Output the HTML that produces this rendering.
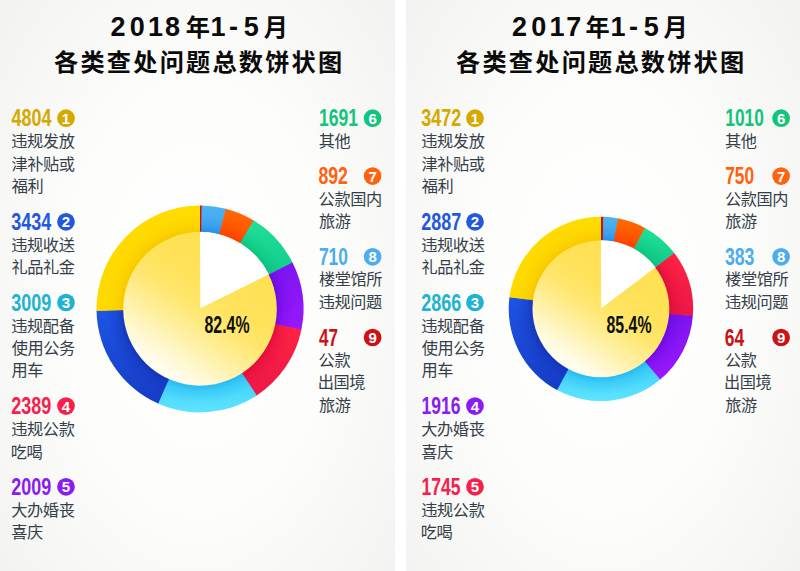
<!DOCTYPE html>
<html><head><meta charset="utf-8"><title>2018/2017 1-5月 各类查处问题总数饼状图</title>
<style>
html,body{margin:0;padding:0;background:#fff;}
body{width:800px;height:571px;overflow:hidden;position:relative;font-family:"Liberation Sans",sans-serif;}
.p{position:absolute;top:0;height:571px;}
#p1{left:0;width:395px;background:radial-gradient(ellipse 72% 80% at 50% 52%,#ffffff 0%,#fdfdfc 45%,#f1f1ef 100%);}
#p2{left:406px;width:394px;background:radial-gradient(ellipse 72% 80% at 50% 52%,#ffffff 0%,#fdfdfc 45%,#f1f1ef 100%);}
svg{position:absolute;left:0;top:0;}
svg text{font-family:"Liberation Sans","Noto Sans CJK SC",sans-serif;}
.t{position:absolute;margin:0;white-space:nowrap;color:transparent;line-height:1;font-weight:normal;}
</style></head><body>
<div class="p" id="p1"></div><div class="p" id="p2"></div>
<svg width="800" height="571" viewBox="0 0 800 571">
<defs><linearGradient id="ag1" x1="0" y1="0" x2="0" y2="1"><stop offset="0" stop-color="#ffdb00"/><stop offset="1" stop-color="#ffd900"/></linearGradient><linearGradient id="ag2" x1="0" y1="0" x2="0" y2="1"><stop offset="0" stop-color="#1d55e4"/><stop offset="1" stop-color="#173cc6"/></linearGradient><linearGradient id="ag3" x1="0" y1="0" x2="0" y2="1"><stop offset="0" stop-color="#3ccdf8"/><stop offset="1" stop-color="#5ee4ff"/></linearGradient><linearGradient id="ag4" x1="0" y1="0" x2="0" y2="1"><stop offset="0" stop-color="#ff2244"/><stop offset="1" stop-color="#ec1848"/></linearGradient><linearGradient id="ag5" x1="0" y1="0" x2="0" y2="1"><stop offset="0" stop-color="#7c14f0"/><stop offset="1" stop-color="#9a18ff"/></linearGradient><linearGradient id="ag6" x1="0" y1="0" x2="0" y2="1"><stop offset="0" stop-color="#1fe096"/><stop offset="1" stop-color="#12cc8c"/></linearGradient><linearGradient id="ag7" x1="0" y1="0" x2="0" y2="1"><stop offset="0" stop-color="#ff6a00"/><stop offset="1" stop-color="#ff4e00"/></linearGradient><linearGradient id="ag8" x1="0" y1="0" x2="0" y2="1"><stop offset="0" stop-color="#4cb2f2"/><stop offset="1" stop-color="#44a6ee"/></linearGradient><linearGradient id="ag9" x1="0" y1="0" x2="0" y2="1"><stop offset="0" stop-color="#d01018"/><stop offset="1" stop-color="#d01018"/></linearGradient><radialGradient id="as1" gradientUnits="userSpaceOnUse" cx="200.00" cy="308.90" r="103.50"><stop offset="0.742" stop-color="#f5c200" stop-opacity="0.75"/><stop offset="0.800" stop-color="#f5c200" stop-opacity="0.32"/><stop offset="0.906" stop-color="#f5c200" stop-opacity="0"/></radialGradient><radialGradient id="as2" gradientUnits="userSpaceOnUse" cx="200.00" cy="308.90" r="103.50"><stop offset="0.742" stop-color="#1230b0" stop-opacity="0.75"/><stop offset="0.800" stop-color="#1230b0" stop-opacity="0.32"/><stop offset="0.906" stop-color="#1230b0" stop-opacity="0"/></radialGradient><radialGradient id="as3" gradientUnits="userSpaceOnUse" cx="200.00" cy="308.90" r="103.50"><stop offset="0.742" stop-color="#1cb4f0" stop-opacity="0.75"/><stop offset="0.800" stop-color="#1cb4f0" stop-opacity="0.32"/><stop offset="0.906" stop-color="#1cb4f0" stop-opacity="0"/></radialGradient><radialGradient id="as4" gradientUnits="userSpaceOnUse" cx="200.00" cy="308.90" r="103.50"><stop offset="0.742" stop-color="#dc0838" stop-opacity="0.75"/><stop offset="0.800" stop-color="#dc0838" stop-opacity="0.32"/><stop offset="0.906" stop-color="#dc0838" stop-opacity="0"/></radialGradient><radialGradient id="as5" gradientUnits="userSpaceOnUse" cx="200.00" cy="308.90" r="103.50"><stop offset="0.742" stop-color="#6408dc" stop-opacity="0.75"/><stop offset="0.800" stop-color="#6408dc" stop-opacity="0.32"/><stop offset="0.906" stop-color="#6408dc" stop-opacity="0"/></radialGradient><radialGradient id="as6" gradientUnits="userSpaceOnUse" cx="200.00" cy="308.90" r="103.50"><stop offset="0.742" stop-color="#08bc7c" stop-opacity="0.75"/><stop offset="0.800" stop-color="#08bc7c" stop-opacity="0.32"/><stop offset="0.906" stop-color="#08bc7c" stop-opacity="0"/></radialGradient><radialGradient id="as7" gradientUnits="userSpaceOnUse" cx="200.00" cy="308.90" r="103.50"><stop offset="0.742" stop-color="#ff3800" stop-opacity="0.75"/><stop offset="0.800" stop-color="#ff3800" stop-opacity="0.32"/><stop offset="0.906" stop-color="#ff3800" stop-opacity="0"/></radialGradient><radialGradient id="as8" gradientUnits="userSpaceOnUse" cx="200.00" cy="308.90" r="103.50"><stop offset="0.742" stop-color="#1888ec" stop-opacity="0.75"/><stop offset="0.800" stop-color="#1888ec" stop-opacity="0.32"/><stop offset="0.906" stop-color="#1888ec" stop-opacity="0"/></radialGradient><radialGradient id="as9" gradientUnits="userSpaceOnUse" cx="200.00" cy="308.90" r="103.50"><stop offset="0.742" stop-color="#b80810" stop-opacity="0.75"/><stop offset="0.800" stop-color="#b80810" stop-opacity="0.32"/><stop offset="0.906" stop-color="#b80810" stop-opacity="0"/></radialGradient><radialGradient id="ash" gradientUnits="userSpaceOnUse" cx="200.00" cy="308.90" r="103.50"><stop offset="0.742" stop-color="#7a2c00" stop-opacity="0.13"/><stop offset="0.897" stop-color="#7a2c00" stop-opacity="0"/></radialGradient><linearGradient id="ain" gradientUnits="userSpaceOnUse" x1="242.24" y1="244.77" x2="157.76" y2="373.03"><stop offset="0" stop-color="#ffe050"/><stop offset="0.35" stop-color="#ffe25a"/><stop offset="0.5" stop-color="#ffe66c"/><stop offset="0.66" stop-color="#ffee98"/><stop offset="0.82" stop-color="#fff6c8"/><stop offset="0.94" stop-color="#fffcea"/><stop offset="1" stop-color="#fffef4"/></linearGradient><linearGradient id="bg1" x1="0" y1="0" x2="0" y2="1"><stop offset="0" stop-color="#ffdb00"/><stop offset="1" stop-color="#ffd900"/></linearGradient><linearGradient id="bg2" x1="0" y1="0" x2="0" y2="1"><stop offset="0" stop-color="#1d55e4"/><stop offset="1" stop-color="#173cc6"/></linearGradient><linearGradient id="bg3" x1="0" y1="0" x2="0" y2="1"><stop offset="0" stop-color="#3ccdf8"/><stop offset="1" stop-color="#5ee4ff"/></linearGradient><linearGradient id="bg4" x1="0" y1="0" x2="0" y2="1"><stop offset="0" stop-color="#ff2244"/><stop offset="1" stop-color="#ec1848"/></linearGradient><linearGradient id="bg5" x1="0" y1="0" x2="0" y2="1"><stop offset="0" stop-color="#7c14f0"/><stop offset="1" stop-color="#9a18ff"/></linearGradient><linearGradient id="bg6" x1="0" y1="0" x2="0" y2="1"><stop offset="0" stop-color="#1fe096"/><stop offset="1" stop-color="#12cc8c"/></linearGradient><linearGradient id="bg7" x1="0" y1="0" x2="0" y2="1"><stop offset="0" stop-color="#ff6a00"/><stop offset="1" stop-color="#ff4e00"/></linearGradient><linearGradient id="bg8" x1="0" y1="0" x2="0" y2="1"><stop offset="0" stop-color="#4cb2f2"/><stop offset="1" stop-color="#44a6ee"/></linearGradient><linearGradient id="bg9" x1="0" y1="0" x2="0" y2="1"><stop offset="0" stop-color="#d01018"/><stop offset="1" stop-color="#d01018"/></linearGradient><radialGradient id="bs1" gradientUnits="userSpaceOnUse" cx="600.90" cy="308.90" r="92.20"><stop offset="0.742" stop-color="#f5c200" stop-opacity="0.75"/><stop offset="0.807" stop-color="#f5c200" stop-opacity="0.32"/><stop offset="0.926" stop-color="#f5c200" stop-opacity="0"/></radialGradient><radialGradient id="bs2" gradientUnits="userSpaceOnUse" cx="600.90" cy="308.90" r="92.20"><stop offset="0.742" stop-color="#1230b0" stop-opacity="0.75"/><stop offset="0.807" stop-color="#1230b0" stop-opacity="0.32"/><stop offset="0.926" stop-color="#1230b0" stop-opacity="0"/></radialGradient><radialGradient id="bs3" gradientUnits="userSpaceOnUse" cx="600.90" cy="308.90" r="92.20"><stop offset="0.742" stop-color="#1cb4f0" stop-opacity="0.75"/><stop offset="0.807" stop-color="#1cb4f0" stop-opacity="0.32"/><stop offset="0.926" stop-color="#1cb4f0" stop-opacity="0"/></radialGradient><radialGradient id="bs4" gradientUnits="userSpaceOnUse" cx="600.90" cy="308.90" r="92.20"><stop offset="0.742" stop-color="#dc0838" stop-opacity="0.75"/><stop offset="0.807" stop-color="#dc0838" stop-opacity="0.32"/><stop offset="0.926" stop-color="#dc0838" stop-opacity="0"/></radialGradient><radialGradient id="bs5" gradientUnits="userSpaceOnUse" cx="600.90" cy="308.90" r="92.20"><stop offset="0.742" stop-color="#6408dc" stop-opacity="0.75"/><stop offset="0.807" stop-color="#6408dc" stop-opacity="0.32"/><stop offset="0.926" stop-color="#6408dc" stop-opacity="0"/></radialGradient><radialGradient id="bs6" gradientUnits="userSpaceOnUse" cx="600.90" cy="308.90" r="92.20"><stop offset="0.742" stop-color="#08bc7c" stop-opacity="0.75"/><stop offset="0.807" stop-color="#08bc7c" stop-opacity="0.32"/><stop offset="0.926" stop-color="#08bc7c" stop-opacity="0"/></radialGradient><radialGradient id="bs7" gradientUnits="userSpaceOnUse" cx="600.90" cy="308.90" r="92.20"><stop offset="0.742" stop-color="#ff3800" stop-opacity="0.75"/><stop offset="0.807" stop-color="#ff3800" stop-opacity="0.32"/><stop offset="0.926" stop-color="#ff3800" stop-opacity="0"/></radialGradient><radialGradient id="bs8" gradientUnits="userSpaceOnUse" cx="600.90" cy="308.90" r="92.20"><stop offset="0.742" stop-color="#1888ec" stop-opacity="0.75"/><stop offset="0.807" stop-color="#1888ec" stop-opacity="0.32"/><stop offset="0.926" stop-color="#1888ec" stop-opacity="0"/></radialGradient><radialGradient id="bs9" gradientUnits="userSpaceOnUse" cx="600.90" cy="308.90" r="92.20"><stop offset="0.742" stop-color="#b80810" stop-opacity="0.75"/><stop offset="0.807" stop-color="#b80810" stop-opacity="0.32"/><stop offset="0.926" stop-color="#b80810" stop-opacity="0"/></radialGradient><radialGradient id="bsh" gradientUnits="userSpaceOnUse" cx="600.90" cy="308.90" r="92.20"><stop offset="0.742" stop-color="#7a2c00" stop-opacity="0.13"/><stop offset="0.916" stop-color="#7a2c00" stop-opacity="0"/></radialGradient><linearGradient id="bin" gradientUnits="userSpaceOnUse" x1="638.53" y1="251.78" x2="563.27" y2="366.02"><stop offset="0" stop-color="#ffe050"/><stop offset="0.35" stop-color="#ffe25a"/><stop offset="0.5" stop-color="#ffe66c"/><stop offset="0.66" stop-color="#ffee98"/><stop offset="0.82" stop-color="#fff6c8"/><stop offset="0.94" stop-color="#fffcea"/><stop offset="1" stop-color="#fffef4"/></linearGradient></defs>
<text y="36.4" font-weight="bold" fill="#0b0b0b"><tspan x="110.5 129.7 148 165" font-size="27">2018</tspan><tspan x="185.7" font-size="24.2">年</tspan><tspan x="210.5" font-size="27">1</tspan><tspan x="229" font-size="27">-</tspan><tspan x="243.8" font-size="27">5</tspan><tspan x="263.7" font-size="24.2">月</tspan></text>
<text x="54.1" y="71.2" font-size="24.2" font-weight="bold" letter-spacing="2.2" fill="#0b0b0b">各类查处问题总数饼状图</text>
<g><path d="M200.00 205.40A103.50 103.50 0 0 1 202.15 205.42L201.58 233.12A75.80 75.80 0 0 0 200.00 233.10Z" fill="url(#ag9)"/><path d="M201.61 205.41A103.50 103.50 0 0 1 226.18 208.77L219.18 235.57A75.80 75.80 0 0 0 201.18 233.11Z" fill="url(#ag8)"/><path d="M225.66 208.63A103.50 103.50 0 0 1 254.18 220.72L239.68 244.32A75.80 75.80 0 0 0 218.79 235.47Z" fill="url(#ag7)"/><path d="M253.72 220.43A103.50 103.50 0 0 1 292.73 262.94L267.91 275.24A75.80 75.80 0 0 0 239.34 244.11Z" fill="url(#ag6)"/><path d="M292.49 262.45A103.50 103.50 0 0 1 301.34 329.94L274.21 324.31A75.80 75.80 0 0 0 267.74 274.88Z" fill="url(#ag5)"/><path d="M301.45 329.41A103.50 103.50 0 0 1 256.32 395.73L241.25 372.49A75.80 75.80 0 0 0 274.29 323.92Z" fill="url(#ag4)"/><path d="M256.78 395.44A103.50 103.50 0 0 1 157.76 403.39L169.06 378.10A75.80 75.80 0 0 0 241.58 372.27Z" fill="url(#ag3)"/><path d="M158.25 403.61A103.50 103.50 0 0 1 96.51 310.34L124.21 309.95A75.80 75.80 0 0 0 169.43 378.26Z" fill="url(#ag2)"/><path d="M96.52 310.88A103.50 103.50 0 0 1 200.00 205.40L200.00 233.10A75.80 75.80 0 0 0 124.22 310.35Z" fill="url(#ag1)"/></g>
<g><path d="M200.00 205.40A103.50 103.50 0 0 1 202.15 205.42L201.58 233.12A75.80 75.80 0 0 0 200.00 233.10Z" fill="url(#as9)"/><path d="M201.61 205.41A103.50 103.50 0 0 1 226.18 208.77L219.18 235.57A75.80 75.80 0 0 0 201.18 233.11Z" fill="url(#as8)"/><path d="M225.66 208.63A103.50 103.50 0 0 1 254.18 220.72L239.68 244.32A75.80 75.80 0 0 0 218.79 235.47Z" fill="url(#as7)"/><path d="M253.72 220.43A103.50 103.50 0 0 1 292.73 262.94L267.91 275.24A75.80 75.80 0 0 0 239.34 244.11Z" fill="url(#as6)"/><path d="M292.49 262.45A103.50 103.50 0 0 1 301.34 329.94L274.21 324.31A75.80 75.80 0 0 0 267.74 274.88Z" fill="url(#as5)"/><path d="M301.45 329.41A103.50 103.50 0 0 1 256.32 395.73L241.25 372.49A75.80 75.80 0 0 0 274.29 323.92Z" fill="url(#as4)"/><path d="M256.78 395.44A103.50 103.50 0 0 1 157.76 403.39L169.06 378.10A75.80 75.80 0 0 0 241.58 372.27Z" fill="url(#as3)"/><path d="M158.25 403.61A103.50 103.50 0 0 1 96.51 310.34L124.21 309.95A75.80 75.80 0 0 0 169.43 378.26Z" fill="url(#as2)"/><path d="M96.52 310.88A103.50 103.50 0 0 1 200.00 205.40L200.00 233.10A75.80 75.80 0 0 0 124.22 310.35Z" fill="url(#as1)"/></g>
<circle cx="200.00" cy="308.90" r="76.80" fill="url(#ain)"/>
<path d="M200.30 308.30L200.00 231.80A77.10 77.10 0 0 1 268.90 274.30Z" fill="#fff"/>
<text x="204.5" y="333.1" font-size="23.6" font-weight="bold" fill="#111" textLength="45" lengthAdjust="spacingAndGlyphs">82.4%</text>
<text x="11.6" y="126.46" font-size="23.3" font-weight="bold" fill="#d4a900" textLength="40" lengthAdjust="spacingAndGlyphs">4804</text>
<circle cx="66.00" cy="118.20" r="8.85" fill="#d4a900"/>
<text x="66" y="123.7" font-size="15" font-weight="bold" fill="#fff" text-anchor="middle">1</text>
<text x="11.3" y="147.26" font-size="16.2" letter-spacing="-0.4" fill="#353f49">违规发放</text>
<text x="11.4" y="169.66" font-size="16.2" letter-spacing="-0.4" fill="#353f49">津补贴或</text>
<text x="11.7" y="192.06" font-size="16.2" letter-spacing="-0.4" fill="#353f49">福利</text>
<text x="11.2" y="230.06" font-size="23.3" font-weight="bold" fill="#2357de" textLength="40" lengthAdjust="spacingAndGlyphs">3434</text>
<circle cx="66.00" cy="221.80" r="8.85" fill="#2357de"/>
<text x="66" y="227.3" font-size="15" font-weight="bold" fill="#fff" text-anchor="middle">2</text>
<text x="11.3" y="250.86" font-size="16.2" letter-spacing="-0.4" fill="#353f49">违规收送</text>
<text x="11.4" y="273.26" font-size="16.2" letter-spacing="-0.4" fill="#353f49">礼品礼金</text>
<text x="11.2" y="310.76" font-size="23.3" font-weight="bold" fill="#1fb3d3" textLength="40" lengthAdjust="spacingAndGlyphs">3009</text>
<circle cx="66.00" cy="302.50" r="8.85" fill="#1fb3d3"/>
<text x="66" y="308" font-size="15" font-weight="bold" fill="#fff" text-anchor="middle">3</text>
<text x="11.3" y="331.56" font-size="16.2" letter-spacing="-0.4" fill="#353f49">违规配备</text>
<text x="11.7" y="353.96" font-size="16.2" letter-spacing="-0.4" fill="#353f49">使用公务</text>
<text x="11.5" y="376.36" font-size="16.2" letter-spacing="-0.4" fill="#353f49">用车</text>
<text x="11.2" y="414.37" font-size="23.3" font-weight="bold" fill="#f6204c" textLength="40" lengthAdjust="spacingAndGlyphs">2389</text>
<circle cx="66.00" cy="406.10" r="8.85" fill="#f6204c"/>
<text x="66" y="411.6" font-size="15" font-weight="bold" fill="#fff" text-anchor="middle">4</text>
<text x="11.3" y="435.16" font-size="16.2" letter-spacing="-0.4" fill="#353f49">违规公款</text>
<text x="10.8" y="457.56" font-size="16.2" letter-spacing="-0.4" fill="#353f49">吃喝</text>
<text x="11.2" y="495.06" font-size="23.3" font-weight="bold" fill="#8a1cf2" textLength="40" lengthAdjust="spacingAndGlyphs">2009</text>
<circle cx="66.00" cy="486.80" r="8.85" fill="#8a1cf2"/>
<text x="66" y="492.3" font-size="15" font-weight="bold" fill="#fff" text-anchor="middle">5</text>
<text x="11.3" y="515.86" font-size="16.2" letter-spacing="-0.4" fill="#353f49">大办婚丧</text>
<text x="11.2" y="538.26" font-size="16.2" letter-spacing="-0.4" fill="#353f49">喜庆</text>
<text x="319" y="126.46" font-size="23.3" font-weight="bold" fill="#12c47c" textLength="39" lengthAdjust="spacingAndGlyphs">1691</text>
<circle cx="372.60" cy="118.20" r="8.85" fill="#12c47c"/>
<text x="372.6" y="123.7" font-size="15" font-weight="bold" fill="#fff" text-anchor="middle">6</text>
<text x="318.7" y="146.66" font-size="16.2" letter-spacing="-0.4" fill="#353f49">其他</text>
<text x="318.4" y="184.37" font-size="23.3" font-weight="bold" fill="#ff6210" textLength="29.5" lengthAdjust="spacingAndGlyphs">892</text>
<circle cx="372.60" cy="176.10" r="8.85" fill="#ff6210"/>
<text x="372.6" y="181.6" font-size="15" font-weight="bold" fill="#fff" text-anchor="middle">7</text>
<text x="318.6" y="204.56" font-size="16.2" letter-spacing="-0.4" fill="#353f49">公款国内</text>
<text x="318.9" y="226.96" font-size="16.2" letter-spacing="-0.4" fill="#353f49">旅游</text>
<text x="318.9" y="265.06" font-size="23.3" font-weight="bold" fill="#4cacf0" textLength="29" lengthAdjust="spacingAndGlyphs">710</text>
<circle cx="372.60" cy="256.80" r="8.85" fill="#4cacf0"/>
<text x="372.6" y="262.3" font-size="15" font-weight="bold" fill="#fff" text-anchor="middle">8</text>
<text x="318.9" y="285.26" font-size="16.2" letter-spacing="-0.4" fill="#353f49">楼堂馆所</text>
<text x="318.7" y="307.66" font-size="16.2" letter-spacing="-0.4" fill="#353f49">违规问题</text>
<text x="319" y="345.76" font-size="23.3" font-weight="bold" fill="#cc1216" textLength="19" lengthAdjust="spacingAndGlyphs">47</text>
<circle cx="372.60" cy="337.50" r="8.85" fill="#cc1216"/>
<text x="372.6" y="343" font-size="15" font-weight="bold" fill="#fff" text-anchor="middle">9</text>
<text x="318.6" y="365.96" font-size="16.2" letter-spacing="-0.4" fill="#353f49">公款</text>
<text x="317.7" y="388.36" font-size="16.2" letter-spacing="-0.4" fill="#353f49">出国境</text>
<text x="318.9" y="410.76" font-size="16.2" letter-spacing="-0.4" fill="#353f49">旅游</text>
<text y="36.4" font-weight="bold" fill="#0b0b0b"><tspan x="512 531.2 549.5 566.3" font-size="27">2017</tspan><tspan x="585.6" font-size="24.2">年</tspan><tspan x="610.4" font-size="27">1</tspan><tspan x="628.9" font-size="27">-</tspan><tspan x="643.7" font-size="27">5</tspan><tspan x="663.6" font-size="24.2">月</tspan></text>
<text x="456.1" y="71.2" font-size="24.2" font-weight="bold" letter-spacing="2.2" fill="#0b0b0b">各类查处问题总数饼状图</text>
<g><path d="M600.90 216.70A92.20 92.20 0 0 1 603.84 216.75L603.05 241.52A67.41 67.41 0 0 0 600.90 241.49Z" fill="url(#bg9)"/><path d="M603.36 216.73A92.20 92.20 0 0 1 618.43 218.38L613.72 242.72A67.41 67.41 0 0 0 602.70 241.51Z" fill="url(#bg8)"/><path d="M617.96 218.29A92.20 92.20 0 0 1 645.39 228.14L633.43 249.85A67.41 67.41 0 0 0 613.37 242.65Z" fill="url(#bg7)"/><path d="M644.97 227.91A92.20 92.20 0 0 1 674.48 253.34L654.70 268.28A67.41 67.41 0 0 0 633.12 249.69Z" fill="url(#bg6)"/><path d="M674.19 252.95A92.20 92.20 0 0 1 692.81 316.24L668.10 314.26A67.41 67.41 0 0 0 654.48 267.99Z" fill="url(#bg4)"/><path d="M692.84 315.75A92.20 92.20 0 0 1 659.84 379.80L643.99 360.74A67.41 67.41 0 0 0 668.13 313.91Z" fill="url(#bg5)"/><path d="M660.21 379.49A92.20 92.20 0 0 1 556.73 389.83L568.61 368.07A67.41 67.41 0 0 0 644.26 360.51Z" fill="url(#bg3)"/><path d="M557.15 390.06A92.20 92.20 0 0 1 509.49 296.89L534.06 300.12A67.41 67.41 0 0 0 568.92 368.24Z" fill="url(#bg2)"/><path d="M509.42 297.37A92.20 92.20 0 0 1 600.90 216.70L600.90 241.49A67.41 67.41 0 0 0 534.02 300.47Z" fill="url(#bg1)"/></g>
<g><path d="M600.90 216.70A92.20 92.20 0 0 1 603.84 216.75L603.05 241.52A67.41 67.41 0 0 0 600.90 241.49Z" fill="url(#bs9)"/><path d="M603.36 216.73A92.20 92.20 0 0 1 618.43 218.38L613.72 242.72A67.41 67.41 0 0 0 602.70 241.51Z" fill="url(#bs8)"/><path d="M617.96 218.29A92.20 92.20 0 0 1 645.39 228.14L633.43 249.85A67.41 67.41 0 0 0 613.37 242.65Z" fill="url(#bs7)"/><path d="M644.97 227.91A92.20 92.20 0 0 1 674.48 253.34L654.70 268.28A67.41 67.41 0 0 0 633.12 249.69Z" fill="url(#bs6)"/><path d="M674.19 252.95A92.20 92.20 0 0 1 692.81 316.24L668.10 314.26A67.41 67.41 0 0 0 654.48 267.99Z" fill="url(#bs4)"/><path d="M692.84 315.75A92.20 92.20 0 0 1 659.84 379.80L643.99 360.74A67.41 67.41 0 0 0 668.13 313.91Z" fill="url(#bs5)"/><path d="M660.21 379.49A92.20 92.20 0 0 1 556.73 389.83L568.61 368.07A67.41 67.41 0 0 0 644.26 360.51Z" fill="url(#bs3)"/><path d="M557.15 390.06A92.20 92.20 0 0 1 509.49 296.89L534.06 300.12A67.41 67.41 0 0 0 568.92 368.24Z" fill="url(#bs2)"/><path d="M509.42 297.37A92.20 92.20 0 0 1 600.90 216.70L600.90 241.49A67.41 67.41 0 0 0 534.02 300.47Z" fill="url(#bs1)"/></g>
<circle cx="600.90" cy="308.90" r="68.41" fill="url(#bin)"/>
<path d="M601.20 308.30L600.90 240.19A68.71 68.71 0 0 1 655.52 267.21Z" fill="#fff"/>
<text x="606.5" y="333.1" font-size="23.6" font-weight="bold" fill="#111" textLength="45" lengthAdjust="spacingAndGlyphs">85.4%</text>
<text x="421.2" y="126.46" font-size="23.3" font-weight="bold" fill="#d4a900" textLength="40" lengthAdjust="spacingAndGlyphs">3472</text>
<circle cx="475.00" cy="118.20" r="8.85" fill="#d4a900"/>
<text x="475" y="123.7" font-size="15" font-weight="bold" fill="#fff" text-anchor="middle">1</text>
<text x="421.3" y="147.26" font-size="16.2" letter-spacing="-0.4" fill="#353f49">违规发放</text>
<text x="421.4" y="169.66" font-size="16.2" letter-spacing="-0.4" fill="#353f49">津补贴或</text>
<text x="421.7" y="192.06" font-size="16.2" letter-spacing="-0.4" fill="#353f49">福利</text>
<text x="421.2" y="230.06" font-size="23.3" font-weight="bold" fill="#2357de" textLength="40" lengthAdjust="spacingAndGlyphs">2887</text>
<circle cx="475.00" cy="221.80" r="8.85" fill="#2357de"/>
<text x="475" y="227.3" font-size="15" font-weight="bold" fill="#fff" text-anchor="middle">2</text>
<text x="421.3" y="250.86" font-size="16.2" letter-spacing="-0.4" fill="#353f49">违规收送</text>
<text x="421.4" y="273.26" font-size="16.2" letter-spacing="-0.4" fill="#353f49">礼品礼金</text>
<text x="421.2" y="310.76" font-size="23.3" font-weight="bold" fill="#1fb3d3" textLength="40" lengthAdjust="spacingAndGlyphs">2866</text>
<circle cx="475.00" cy="302.50" r="8.85" fill="#1fb3d3"/>
<text x="475" y="308" font-size="15" font-weight="bold" fill="#fff" text-anchor="middle">3</text>
<text x="421.3" y="331.56" font-size="16.2" letter-spacing="-0.4" fill="#353f49">违规配备</text>
<text x="421.7" y="353.96" font-size="16.2" letter-spacing="-0.4" fill="#353f49">使用公务</text>
<text x="421.5" y="376.36" font-size="16.2" letter-spacing="-0.4" fill="#353f49">用车</text>
<text x="421.6" y="414.37" font-size="23.3" font-weight="bold" fill="#8a1cf2" textLength="39" lengthAdjust="spacingAndGlyphs">1916</text>
<circle cx="475.00" cy="406.10" r="8.85" fill="#8a1cf2"/>
<text x="475" y="411.6" font-size="15" font-weight="bold" fill="#fff" text-anchor="middle">4</text>
<text x="421.3" y="435.16" font-size="16.2" letter-spacing="-0.4" fill="#353f49">大办婚丧</text>
<text x="421.2" y="457.56" font-size="16.2" letter-spacing="-0.4" fill="#353f49">喜庆</text>
<text x="421.6" y="495.06" font-size="23.3" font-weight="bold" fill="#f6204c" textLength="39" lengthAdjust="spacingAndGlyphs">1745</text>
<circle cx="475.00" cy="486.80" r="8.85" fill="#f6204c"/>
<text x="475" y="492.3" font-size="15" font-weight="bold" fill="#fff" text-anchor="middle">5</text>
<text x="421.3" y="515.86" font-size="16.2" letter-spacing="-0.4" fill="#353f49">违规公款</text>
<text x="420.8" y="538.26" font-size="16.2" letter-spacing="-0.4" fill="#353f49">吃喝</text>
<text x="725.3" y="126.46" font-size="23.3" font-weight="bold" fill="#12c47c" textLength="38.5" lengthAdjust="spacingAndGlyphs">1010</text>
<circle cx="781.10" cy="118.20" r="8.85" fill="#12c47c"/>
<text x="781.1" y="123.7" font-size="15" font-weight="bold" fill="#fff" text-anchor="middle">6</text>
<text x="725" y="146.66" font-size="16.2" letter-spacing="-0.4" fill="#353f49">其他</text>
<text x="725.2" y="184.37" font-size="23.3" font-weight="bold" fill="#ff6210" textLength="29" lengthAdjust="spacingAndGlyphs">750</text>
<circle cx="781.10" cy="176.10" r="8.85" fill="#ff6210"/>
<text x="781.1" y="181.6" font-size="15" font-weight="bold" fill="#fff" text-anchor="middle">7</text>
<text x="724.9" y="204.56" font-size="16.2" letter-spacing="-0.4" fill="#353f49">公款国内</text>
<text x="725.2" y="226.96" font-size="16.2" letter-spacing="-0.4" fill="#353f49">旅游</text>
<text x="724.9" y="265.06" font-size="23.3" font-weight="bold" fill="#4cacf0" textLength="29.5" lengthAdjust="spacingAndGlyphs">383</text>
<circle cx="781.10" cy="256.80" r="8.85" fill="#4cacf0"/>
<text x="781.1" y="262.3" font-size="15" font-weight="bold" fill="#fff" text-anchor="middle">8</text>
<text x="725.2" y="285.26" font-size="16.2" letter-spacing="-0.4" fill="#353f49">楼堂馆所</text>
<text x="725" y="307.66" font-size="16.2" letter-spacing="-0.4" fill="#353f49">违规问题</text>
<text x="724.7" y="345.76" font-size="23.3" font-weight="bold" fill="#cc1216" textLength="19.5" lengthAdjust="spacingAndGlyphs">64</text>
<circle cx="781.10" cy="337.50" r="8.85" fill="#cc1216"/>
<text x="781.1" y="343" font-size="15" font-weight="bold" fill="#fff" text-anchor="middle">9</text>
<text x="724.9" y="365.96" font-size="16.2" letter-spacing="-0.4" fill="#353f49">公款</text>
<text x="724" y="388.36" font-size="16.2" letter-spacing="-0.4" fill="#353f49">出国境</text>
<text x="725.2" y="410.76" font-size="16.2" letter-spacing="-0.4" fill="#353f49">旅游</text>
</svg>
<p class="t" style="left:111px;top:14px;font-size:26px">2018年1-5月</p>
<p class="t" style="left:55px;top:49px;font-size:24px">各类查处问题总数饼状图</p>
<p class="t" style="left:205px;top:313px;font-size:24px">82.4%</p>
<p class="t" style="left:12px;top:106px;font-size:24px">4804</p>
<p class="t" style="left:62px;top:110px;font-size:14px">1</p>
<p class="t" style="left:12px;top:131px;font-size:16px">违规发放</p>
<p class="t" style="left:12px;top:154px;font-size:16px">津补贴或</p>
<p class="t" style="left:12px;top:176px;font-size:16px">福利</p>
<p class="t" style="left:12px;top:210px;font-size:24px">3434</p>
<p class="t" style="left:62px;top:214px;font-size:14px">2</p>
<p class="t" style="left:12px;top:235px;font-size:16px">违规收送</p>
<p class="t" style="left:12px;top:257px;font-size:16px">礼品礼金</p>
<p class="t" style="left:12px;top:290px;font-size:24px">3009</p>
<p class="t" style="left:62px;top:294px;font-size:14px">3</p>
<p class="t" style="left:12px;top:316px;font-size:16px">违规配备</p>
<p class="t" style="left:12px;top:338px;font-size:16px">使用公务</p>
<p class="t" style="left:12px;top:360px;font-size:16px">用车</p>
<p class="t" style="left:12px;top:394px;font-size:24px">2389</p>
<p class="t" style="left:62px;top:398px;font-size:14px">4</p>
<p class="t" style="left:12px;top:419px;font-size:16px">违规公款</p>
<p class="t" style="left:12px;top:442px;font-size:16px">吃喝</p>
<p class="t" style="left:12px;top:475px;font-size:24px">2009</p>
<p class="t" style="left:62px;top:479px;font-size:14px">5</p>
<p class="t" style="left:12px;top:500px;font-size:16px">大办婚丧</p>
<p class="t" style="left:12px;top:522px;font-size:16px">喜庆</p>
<p class="t" style="left:319px;top:106px;font-size:24px">1691</p>
<p class="t" style="left:369px;top:110px;font-size:14px">6</p>
<p class="t" style="left:319px;top:131px;font-size:16px">其他</p>
<p class="t" style="left:319px;top:164px;font-size:24px">892</p>
<p class="t" style="left:369px;top:168px;font-size:14px">7</p>
<p class="t" style="left:319px;top:189px;font-size:16px">公款国内</p>
<p class="t" style="left:319px;top:211px;font-size:16px">旅游</p>
<p class="t" style="left:319px;top:245px;font-size:24px">710</p>
<p class="t" style="left:369px;top:249px;font-size:14px">8</p>
<p class="t" style="left:319px;top:269px;font-size:16px">楼堂馆所</p>
<p class="t" style="left:319px;top:292px;font-size:16px">违规问题</p>
<p class="t" style="left:319px;top:325px;font-size:24px">47</p>
<p class="t" style="left:369px;top:329px;font-size:14px">9</p>
<p class="t" style="left:319px;top:350px;font-size:16px">公款</p>
<p class="t" style="left:319px;top:372px;font-size:16px">出国境</p>
<p class="t" style="left:319px;top:395px;font-size:16px">旅游</p>
<p class="t" style="left:512px;top:14px;font-size:26px">2017年1-5月</p>
<p class="t" style="left:456px;top:49px;font-size:24px">各类查处问题总数饼状图</p>
<p class="t" style="left:607px;top:313px;font-size:24px">85.4%</p>
<p class="t" style="left:422px;top:106px;font-size:24px">3472</p>
<p class="t" style="left:471px;top:110px;font-size:14px">1</p>
<p class="t" style="left:422px;top:131px;font-size:16px">违规发放</p>
<p class="t" style="left:422px;top:154px;font-size:16px">津补贴或</p>
<p class="t" style="left:422px;top:176px;font-size:16px">福利</p>
<p class="t" style="left:422px;top:210px;font-size:24px">2887</p>
<p class="t" style="left:471px;top:214px;font-size:14px">2</p>
<p class="t" style="left:422px;top:235px;font-size:16px">违规收送</p>
<p class="t" style="left:422px;top:257px;font-size:16px">礼品礼金</p>
<p class="t" style="left:422px;top:290px;font-size:24px">2866</p>
<p class="t" style="left:471px;top:294px;font-size:14px">3</p>
<p class="t" style="left:422px;top:316px;font-size:16px">违规配备</p>
<p class="t" style="left:422px;top:338px;font-size:16px">使用公务</p>
<p class="t" style="left:422px;top:360px;font-size:16px">用车</p>
<p class="t" style="left:422px;top:394px;font-size:24px">1916</p>
<p class="t" style="left:471px;top:398px;font-size:14px">4</p>
<p class="t" style="left:422px;top:419px;font-size:16px">大办婚丧</p>
<p class="t" style="left:422px;top:442px;font-size:16px">喜庆</p>
<p class="t" style="left:422px;top:475px;font-size:24px">1745</p>
<p class="t" style="left:471px;top:479px;font-size:14px">5</p>
<p class="t" style="left:422px;top:500px;font-size:16px">违规公款</p>
<p class="t" style="left:422px;top:522px;font-size:16px">吃喝</p>
<p class="t" style="left:726px;top:106px;font-size:24px">1010</p>
<p class="t" style="left:777px;top:110px;font-size:14px">6</p>
<p class="t" style="left:726px;top:131px;font-size:16px">其他</p>
<p class="t" style="left:726px;top:164px;font-size:24px">750</p>
<p class="t" style="left:777px;top:168px;font-size:14px">7</p>
<p class="t" style="left:726px;top:189px;font-size:16px">公款国内</p>
<p class="t" style="left:726px;top:211px;font-size:16px">旅游</p>
<p class="t" style="left:726px;top:245px;font-size:24px">383</p>
<p class="t" style="left:777px;top:249px;font-size:14px">8</p>
<p class="t" style="left:726px;top:269px;font-size:16px">楼堂馆所</p>
<p class="t" style="left:726px;top:292px;font-size:16px">违规问题</p>
<p class="t" style="left:726px;top:325px;font-size:24px">64</p>
<p class="t" style="left:777px;top:329px;font-size:14px">9</p>
<p class="t" style="left:726px;top:350px;font-size:16px">公款</p>
<p class="t" style="left:726px;top:372px;font-size:16px">出国境</p>
<p class="t" style="left:726px;top:395px;font-size:16px">旅游</p>
</body></html>
